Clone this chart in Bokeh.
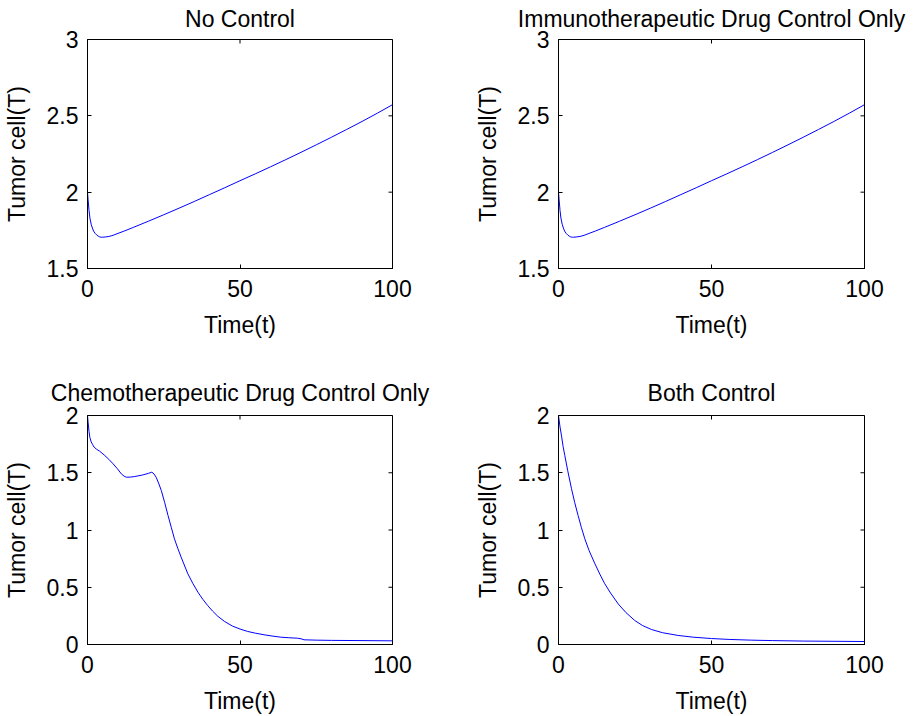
import math
from bokeh.plotting import figure
from bokeh.models import Range1d, FixedTicker, NumeralTickFormatter, ColumnDataSource
from bokeh.layouts import column, row
from bokeh.embed import file_html
from bokeh.resources import INLINE

# ---------------- data ----------------
x_ticks = [0, 50, 100]
y_ticks_top = [1.5, 2, 2.5, 3]
y_ticks_bottom = [0, 0.5, 1, 1.5, 2]

no_control_t = [0, 0.2, 0.5, 0.8, 1.2, 1.6, 2, 2.5, 3, 3.5, 4, 4.5, 5, 6, 7, 8, 9, 10, 12, 15,
                20, 25, 30, 35, 40, 45, 50, 55, 60, 65, 70, 75, 80, 85, 90, 95, 100]
no_control_T = [2.0, 1.95, 1.88, 1.83, 1.79, 1.765, 1.745, 1.73, 1.72, 1.712, 1.707, 1.705, 1.705,
                1.707, 1.71, 1.715, 1.722, 1.73, 1.745, 1.769, 1.81, 1.852, 1.895, 1.939, 1.984,
                2.029, 2.075, 2.12, 2.166, 2.213, 2.261, 2.31, 2.36, 2.411, 2.463, 2.517, 2.573]

immuno_t = [0, 0.2, 0.5, 0.8, 1.2, 1.6, 2, 2.5, 3, 3.5, 4, 4.5, 5, 6, 7, 8, 9, 10, 12, 15,
            20, 25, 30, 35, 40, 45, 50, 55, 60, 65, 70, 75, 80, 85, 90, 95, 100]
immuno_T = [2.0, 1.95, 1.88, 1.83, 1.79, 1.765, 1.745, 1.73, 1.72, 1.712, 1.707, 1.705, 1.705,
            1.707, 1.71, 1.715, 1.722, 1.73, 1.745, 1.769, 1.81, 1.852, 1.895, 1.939, 1.984,
            2.029, 2.075, 2.12, 2.166, 2.213, 2.261, 2.31, 2.36, 2.411, 2.463, 2.517, 2.573]

chemo_t = [0, 0.2, 0.5, 0.76, 1.2, 1.7, 2.18, 3, 4, 5.66, 7, 8.39, 9.8, 11.1, 12, 12.75, 14, 15.5,
           18, 20, 21.1, 21.8, 22.5, 23.3, 24.2, 25.3, 26.4, 27.5, 28.5, 29.6, 30.7, 32.9, 34.5,
           36.2, 37.8, 39.4, 41, 42.7, 45, 47.6, 50, 52.5, 55, 57.9, 60.5, 63.4, 66, 68.8, 70, 71,
           75, 80, 90, 100]
chemo_T = [2.0, 1.94, 1.86, 1.81, 1.77, 1.745, 1.723, 1.705, 1.688, 1.651, 1.617, 1.578, 1.535,
           1.49, 1.47, 1.461, 1.462, 1.467, 1.48, 1.495, 1.505, 1.49, 1.461, 1.41, 1.345, 1.24,
           1.127, 1.02, 0.923, 0.84, 0.763, 0.617, 0.535, 0.457, 0.395, 0.341, 0.292, 0.247, 0.2,
           0.16, 0.135, 0.114, 0.099, 0.085, 0.074, 0.064, 0.059, 0.055, 0.05, 0.041, 0.038, 0.036,
           0.034, 0.032]

both_t = [0, 0.5, 1, 1.5, 2.07, 3, 4.25, 5.3, 6.4, 7.5, 8.6, 10, 11.9, 13.5, 15.1, 17, 19.5, 22,
          24.9, 27.5, 30.4, 34, 39.1, 44, 50, 56, 63, 70, 80, 90, 100]
both_T = [2.0, 1.9, 1.82, 1.73, 1.65, 1.52, 1.36, 1.24, 1.127, 1.02, 0.923, 0.82, 0.705, 0.615,
          0.531, 0.45, 0.355, 0.28, 0.21, 0.165, 0.131, 0.103, 0.079, 0.064, 0.052, 0.044, 0.038,
          0.034, 0.03, 0.028, 0.026]

titles = ["No Control", "Immunotherapeutic Drug Control Only",
          "Chemotherapeutic Drug Control Only", "Both Control"]
x_label = "Time(t)"
y_label = "Tumor cell(T)"

FONT = "Liberation Sans"
FS = "23px"


def style_axis(ax, ticks):
    ax.ticker = FixedTicker(ticks=ticks)
    ax.formatter = NumeralTickFormatter(format="0.[0]")
    ax.major_tick_in = 4
    ax.major_tick_out = 0
    ax.minor_tick_line_color = None
    ax.axis_line_color = "black"
    ax.major_tick_line_color = "black"
    ax.major_label_text_font = FONT
    ax.major_label_text_color = "black"
    ax.major_label_text_font_size = FS
    ax.axis_label_text_font = FONT
    ax.axis_label_text_font_style = "normal"
    ax.axis_label_text_font_size = FS
    ax.axis_label_text_color = "black"


def make_fig(title, t, T, yr, yticks, width, height, bl, br, bt, bb, title_standoff):
    xr = (0, 100)
    p = figure(width=width, height=height, output_backend="svg", toolbar_location=None,
               x_range=Range1d(*xr), y_range=Range1d(*yr),
               min_border_left=bl, min_border_right=br, min_border_top=bt, min_border_bottom=bb,
               background_fill_color="white", border_fill_color="white")
    p.grid.visible = False
    p.outline_line_color = "black"
    p.outline_line_width = 1
    p.outline_line_alpha = 1
    p.title.text = title
    p.title.align = "center"
    p.title.text_font = FONT
    p.title.text_font_size = FS
    p.title.text_font_style = "normal"
    p.title.text_color = "black"
    p.title.standoff = title_standoff
    src = ColumnDataSource(dict(t=t, T=T))
    p.line("t", "T", source=src, line_color="#0000ff", line_width=1)
    style_axis(p.xaxis[0], x_ticks)
    style_axis(p.yaxis[0], yticks)
    p.xaxis[0].axis_label = x_label
    p.yaxis[0].axis_label = y_label
    p.xaxis[0].major_label_standoff = 11
    p.xaxis[0].axis_label_standoff = 12
    p.yaxis[0].major_label_standoff = 9
    p.yaxis[0].axis_label_standoff = 14
    # inward ticks on the top and right edges of the box (clipped to the frame)
    p.scatter(x=x_ticks, y=[yr[1]] * len(x_ticks), marker="dash", angle=math.pi / 2,
              size=8, line_color="black", line_width=1)
    p.scatter(x=[xr[1]] * len(yticks), y=yticks, marker="dash",
              size=8, line_color="black", line_width=1)
    return p


p1 = make_fig(titles[0], no_control_t, no_control_T, (1.5, 3), y_ticks_top, 460, 366, 86, 68, 45, 92, 15)
p2 = make_fig(titles[1], immuno_t, immuno_T, (1.5, 3), y_ticks_top, 460, 366, 98, 56, 45, 92, 15)
p3 = make_fig(titles[2], chemo_t, chemo_T, (0, 2), y_ticks_bottom, 460, 356, 86, 68, 55, 72, 19)
p4 = make_fig(titles[3], both_t, both_T, (0, 2), y_ticks_bottom, 460, 356, 98, 56, 55, 72, 19)

layout = column(row(p1, p2), row(p3, p4), styles={"margin-top": "-6px"})
open("out.html", "w").write(file_html(layout, INLINE))
